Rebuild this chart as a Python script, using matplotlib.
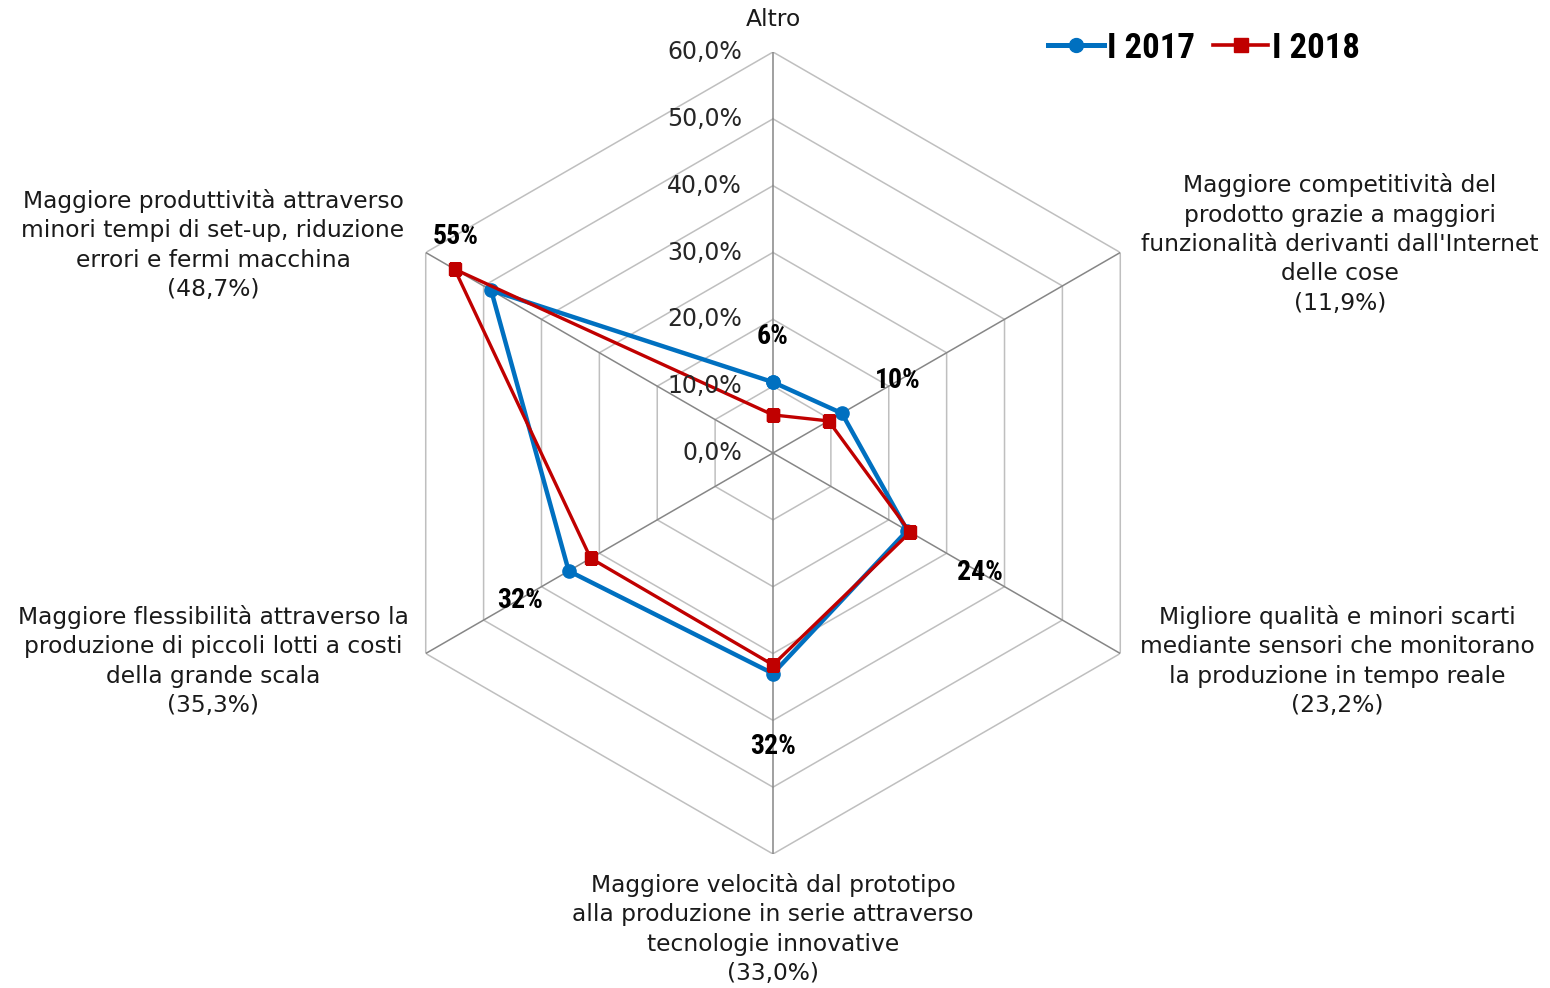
import numpy as np
import matplotlib
matplotlib.use("Agg")
import matplotlib.pyplot as plt
from matplotlib import font_manager
from matplotlib.lines import Line2D

categories = [
    "Altro",
    "Maggiore competitività del\nprodotto grazie a maggiori\nfunzionalità derivanti dall'Internet\ndelle cose\n(11,9%)",
    "Migliore qualità e minori scarti\nmediante sensori che monitorano\nla produzione in tempo reale\n(23,2%)",
    "Maggiore velocità dal prototipo\nalla produzione in serie attraverso\ntecnologie innovative\n(33,0%)",
    "Maggiore flessibilità attraverso la\nproduzione di piccoli lotti a costi\ndella grande scala\n(35,3%)",
    "Maggiore produttività attraverso\nminori tempi di set-up, riduzione\nerrori e fermi macchina\n(48,7%)",
]
series_names = ["I 2017", "I 2018"]
values_2017 = [10.6, 11.9, 23.2, 33.0, 35.3, 48.7]
values_2018 = [5.7, 9.6, 23.7, 31.7, 31.5, 55.0]
labels_2018 = ["6%", "10%", "24%", "32%", "32%", "55%"]
ticks = [0, 10, 20, 30, 40, 50, 60]
tick_labels = ["0,0%", "10,0%", "20,0%", "30,0%", "40,0%", "50,0%", "60,0%"]

names = {f.name for f in font_manager.fontManager.ttflist}
narrow = "Liberation Sans Narrow" if "Liberation Sans Narrow" in names else "Roboto Condensed" if "Roboto Condensed" in names else "DejaVu Sans"

W, H = 1550, 988
fig = plt.figure(figsize=(W / 100, H / 100), dpi=100)
cx, cy, R = 773, 453, 401
ax = fig.add_axes([(cx - R) / W, (H - cy - R) / H, 2 * R / W, 2 * R / H], projection="polar")
ax.set_theta_offset(np.pi / 2)
ax.set_theta_direction(-1)
ax.set_ylim(0, 60)
ax.grid(False)
ax.set_xticks([])
ax.set_yticks([])
ax.spines["polar"].set_visible(False)
ax.patch.set_visible(False)

n = len(categories)
angles = np.arange(n) * 2 * np.pi / n
ang_closed = np.append(angles, angles[0])

# hexagonal rings
for t in ticks[1:]:
    ax.plot(ang_closed, [t] * (n + 1), color="#BFBFBF", lw=1.1, zorder=1)
# spokes
for a in angles:
    ax.plot([a, a], [0, 60], color="#868686", lw=1.1, zorder=1)

colors = ["#0070C0", "#C00000"]
ax.plot(ang_closed, values_2017 + values_2017[:1], color=colors[0], lw=3.2,
        marker="o", ms=9.5, zorder=3, solid_joinstyle="round")
ax.plot(ang_closed, values_2018 + values_2018[:1], color=colors[1], lw=2.4,
        marker="s", ms=9, zorder=4)

# radial tick labels
for t, lab in zip(ticks, tick_labels):
    yy = cy - R * t / 60
    fig.text(742 / W, 1 - yy / H, lab, ha="right", va="center",
             fontsize=17, color="#262626", family="DejaVu Sans")

# data labels for 2018
lab_pos = [(773, 336), (898, 381), (980, 572), (773, 746), (520, 600), (456, 237)]
for (px, py), lab in zip(lab_pos, labels_2018):
    fig.text(px / W, 1 - py / H, lab, ha="center", va="center",
             fontsize=20, fontweight="bold", family=narrow, color="black")

# category labels
cat_pos = [(773, 19), (1340, 244), (1337, 661), (773, 929), (213, 661), (213, 245)]
for (px, py), lab in zip(cat_pos, categories):
    fig.text(px / W, 1 - py / H, lab, ha="center", va="center",
             fontsize=16.8, linespacing=1.36, color="#1a1a1a", family="DejaVu Sans")

handles = [
    Line2D([], [], color=colors[0], lw=3.6, marker="o", ms=10),
    Line2D([], [], color=colors[1], lw=2.6, marker="s", ms=9.5),
]
leg = fig.legend(handles, series_names, loc="center", bbox_to_anchor=(1204 / W, 1 - 48 / H),
                 ncol=2, frameon=False, handlelength=1.6, handletextpad=0.1,
                 columnspacing=0.5, prop={"family": narrow, "weight": "bold", "size": 25})

fig.savefig("out.png", dpi=100)
